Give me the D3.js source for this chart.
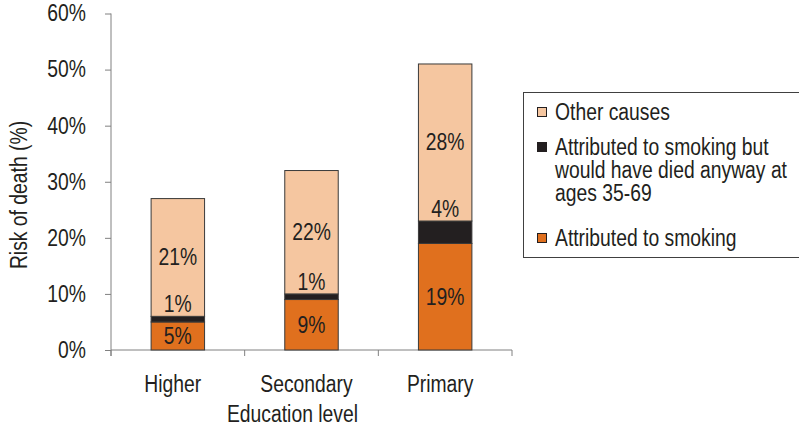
<!DOCTYPE html>
<html>
<head>
<meta charset="utf-8">
<script src="https://cdn.jsdelivr.net/npm/d3@7"></script>
<style>
  body { margin: 0; background: #fff; }
  svg text { font-family: "Liberation Sans", Arial, sans-serif; fill: #231f20; }
</style>
</head>
<body>
<div id="chart"></div>
<script>
// values (percent)
var categories = ["Higher", "Secondary", "Primary"];
var smoking = [5, 9, 19];
var diedAnyway = [1, 1, 4];
var otherCauses = [21, 22, 28];
var yTicks = [0, 10, 20, 30, 40, 50, 60];
var legendLabels = [
  ["Other causes"],
  ["Attributed to smoking but", "would have died anyway at", "ages 35-69"],
  ["Attributed to smoking"]
];
var colors = { other: "#f5c6a0", anyway: "#231f20", smoking: "#e0701e" };

var width = 799, height = 428;
var fontSize = "23px";
var fontFamily = "'Liberation Sans', Arial, sans-serif";
var squeeze = 0.84; // the original type is a condensed face

var svg = d3.select("#chart").append("svg")
  .attr("width", width)
  .attr("height", height);

var y = d3.scaleLinear().domain([0, 60]).range([350, 13.5]);
var x = d3.scaleBand().domain(categories).range([111, 512])
  .paddingInner(0.6).paddingOuter(0.3);

// y axis
var yAxis = svg.append("g")
  .attr("transform", "translate(111,0)")
  .call(d3.axisLeft(y).tickValues(yTicks).tickSizeInner(6).tickSizeOuter(0)
    .tickPadding(19).tickFormat(function(d) { return d + "%"; }));
yAxis.select(".domain").remove();
yAxis.selectAll("line").attr("stroke", "#808080");
yAxis.selectAll("text")
  .style("font-size", fontSize)
  .style("font-family", fontFamily)
  .attr("fill", "#231f20");

svg.append("line")
  .attr("x1", 111).attr("x2", 111)
  .attr("y1", y(60)).attr("y2", 356)
  .attr("stroke", "#808080");

// x axis with ticks between the categories
svg.append("line")
  .attr("x1", 111).attr("x2", 512)
  .attr("y1", y(0)).attr("y2", y(0))
  .attr("stroke", "#808080");

var boundaries = categories.map(function(c) { return x(c) - x.step() * 0.3; });
boundaries.push(x(categories[categories.length - 1]) + x.bandwidth() + x.step() * 0.3);
svg.selectAll(".xtick").data(boundaries).enter().append("line")
  .attr("x1", function(d) { return d; }).attr("x2", function(d) { return d; })
  .attr("y1", y(0)).attr("y2", y(0) + 6)
  .attr("stroke", "#808080");

svg.selectAll(".xlabel").data(categories).enter().append("text")
  .attr("x", function(d) { return x(d) + x.bandwidth() / 2 - 5; })
  .attr("y", 392)
  .attr("text-anchor", "middle")
  .style("font-size", fontSize)
  .text(function(d) { return d; });

// stacked bars
var rows = categories.map(function(c, i) {
  return { cat: c, smoking: smoking[i], anyway: diedAnyway[i], other: otherCauses[i] };
});
var stack = d3.stack().keys(["smoking", "anyway", "other"]);
var series = stack(rows);

var groups = svg.selectAll(".series").data(series).enter().append("g")
  .attr("fill", function(d) { return colors[d.key]; });

groups.selectAll("rect").data(function(d) { return d; }).enter().append("rect")
  .attr("x", function(d) { return x(d.data.cat); })
  .attr("width", x.bandwidth())
  .attr("y", function(d) { return y(d[1]); })
  .attr("height", function(d) { return y(d[0]) - y(d[1]); })
  .attr("stroke", "#3a3a3a")
  .attr("stroke-width", 1);

// segment labels
series.forEach(function(s) {
  svg.selectAll(".lab-" + s.key).data(s).enter().append("text")
    .attr("x", function(d) { return x(d.data.cat) + x.bandwidth() / 2; })
    .attr("y", function(d) {
      if (s.key === "anyway") return y(d[1]) - 12;
      return y((d[0] + d[1]) / 2);
    })
    .attr("text-anchor", "middle")
    .attr("dominant-baseline", "central")
    .style("font-size", fontSize)
    .text(function(d) { return (d[1] - d[0]) + "%"; });
});

// axis titles
svg.append("text")
  .attr("transform", "translate(19,195) rotate(-90)")
  .attr("text-anchor", "middle")
  .attr("dominant-baseline", "central")
  .style("font-size", fontSize)
  .text("Risk of death (%)");

svg.append("text")
  .attr("x", 292.5)
  .attr("y", 422)
  .attr("text-anchor", "middle")
  .style("font-size", fontSize)
  .text("Education level");

// legend
var legend = svg.append("g");
legend.append("rect")
  .attr("x", 523.5).attr("y", 92.5)
  .attr("width", 300).attr("height", 165)
  .attr("fill", "none")
  .attr("stroke", "#404040");

var legendKeys = ["other", "anyway", "smoking"];
var legendY = [112, 147, 238];
legendKeys.forEach(function(k, i) {
  legend.append("rect")
    .attr("x", 537.5).attr("y", legendY[i] - 4.5)
    .attr("width", 9).attr("height", 9)
    .attr("fill", colors[k])
    .attr("stroke", "#231f20");
  legendLabels[i].forEach(function(line, j) {
    legend.append("text")
      .attr("x", 555)
      .attr("y", legendY[i] + j * 23)
      .attr("dominant-baseline", "central")
      .style("font-size", fontSize)
      .text(line);
  });
});

// narrow every label horizontally
svg.selectAll("text").each(function() {
  var len = this.getComputedTextLength();
  d3.select(this)
    .attr("textLength", len * squeeze)
    .attr("lengthAdjust", "spacingAndGlyphs");
});
</script>
</body>
</html>
